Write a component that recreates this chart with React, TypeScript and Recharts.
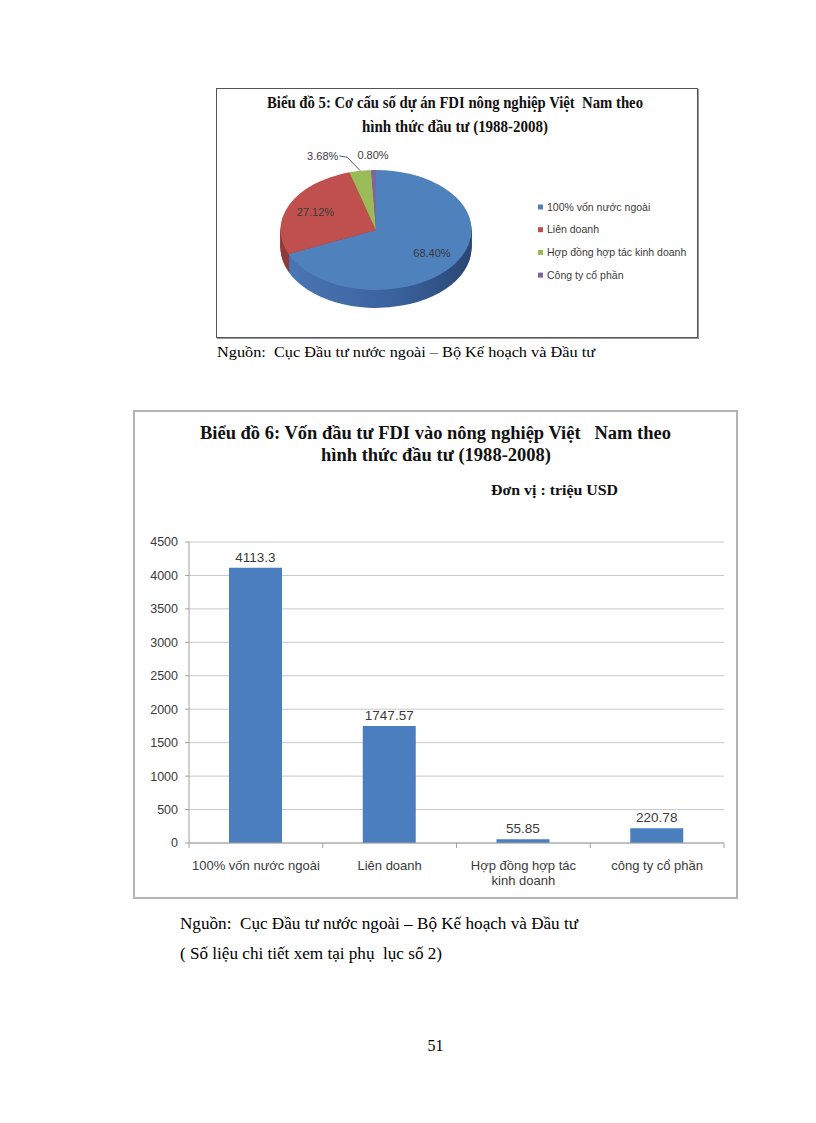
import React from "react";
import {
  PieChart,
  Pie,
  Cell,
  BarChart,
  Bar,
  XAxis,
  YAxis,
  CartesianGrid,
  LabelList,
  Text,
} from "recharts";

// Biểu đồ 5: share of projects by investment form (%)
const pieNames = [
  "100% vốn nước ngoài",
  "Liên doanh",
  "Hợp đồng hợp tác kinh doanh",
  "Công ty cổ phần",
];
const pieShares = [68.4, 27.12, 3.68, 0.8];
const pieColors = ["#4f81bd", "#c0504d", "#9bbb59", "#8064a2"];
const pieSideColors = ["url(#sideBlue)", "#8f3b39", "#789544", "#5f4a80"];

// Biểu đồ 6: capital by investment form (million USD)
const barCategories = [
  "100% vốn nước ngoài",
  "Liên doanh",
  "Hợp đồng hợp tác\nkinh doanh",
  "công ty cổ phần",
];
const barValues = [4113.3, 1747.57, 55.85, 220.78];
const yTicks = [0, 500, 1000, 1500, 2000, 2500, 3000, 3500, 4000, 4500];

const SANS = '"Liberation Sans", Arial, sans-serif';
const SERIF = '"Liberation Serif", "Times New Roman", serif';
const TEXT_GREY = "#3a3a3a";

// the pie is drawn round, then squashed vertically to look tilted
const K = 0.628;
const R = 95.5;
const PIE_CX = 130;
const PIE_CY = 140;
const DEPTH = 18 / K;
const LAYERS = 14;
const RAD = Math.PI / 180;

const pieData = pieNames.map((name, i) => ({ name, value: pieShares[i] }));
const barData = barCategories.map((name, i) => ({ name, value: barValues[i] }));

const PLOT_W = 535;
const BAND = PLOT_W / barCategories.length;

function unsquash(x: number, y: number) {
  return `translate(${x},${y}) scale(1,${1 / K})`;
}

function renderPieLabel(props: any) {
  const { cx, cy, midAngle, outerRadius, index, value } = props;
  const cos = Math.cos(-midAngle * RAD);
  const sin = Math.sin(-midAngle * RAD);
  const label = `${Number(value).toFixed(2)}%`;
  const style = { fontFamily: SANS, fontSize: 11, fill: TEXT_GREY };

  if (index < 2) {
    const r = outerRadius * 0.7;
    return (
      <text
        transform={unsquash(cx + r * cos, cy + r * sin)}
        textAnchor="middle"
        dominantBaseline="central"
        style={style}
      >
        {label}
      </text>
    );
  }

  const r = outerRadius * 1.25;
  const lx = cx + r * cos;
  const ly = cy + r * sin;
  if (index === 2) {
    const tx = lx - 18;
    const ex = cx + outerRadius * cos;
    const ey = cy + outerRadius * sin;
    return (
      <g>
        <path
          d={`M${tx + 1},${ly} L${tx + 9},${ly + 2} L${ex},${ey}`}
          stroke={TEXT_GREY}
          strokeWidth={1}
          fill="none"
          vectorEffect="non-scaling-stroke"
        />
        <text
          transform={unsquash(tx, ly)}
          textAnchor="end"
          dominantBaseline="central"
          style={style}
        >
          {label}
        </text>
      </g>
    );
  }
  return (
    <text
      transform={unsquash(lx, ly)}
      textAnchor="middle"
      dominantBaseline="central"
      style={style}
    >
      {label}
    </text>
  );
}

function CategoryTick(props: any) {
  const { x, y, payload, index } = props;
  const lines = String(payload.value).split("\n");
  return (
    <g>
      <line x1={x - BAND / 2} y1={y} x2={x - BAND / 2} y2={y + 5} stroke="#a0a0a0" />
      {index === barCategories.length - 1 && (
        <line x1={x + BAND / 2} y1={y} x2={x + BAND / 2} y2={y + 5} stroke="#a0a0a0" />
      )}
      {lines.map((line, i) => (
        <Text
          key={i}
          x={x}
          y={y + 22 + i * 15}
          textAnchor="middle"
          verticalAnchor="middle"
          style={{ fontFamily: SANS, fontSize: 13, fill: TEXT_GREY }}
        >
          {line}
        </Text>
      ))}
    </g>
  );
}

function TiltedPie() {
  const layers = [];
  for (let i = LAYERS; i >= 1; i--) {
    const off = (DEPTH * i) / LAYERS;
    layers.push(
      <Pie
        key={`side${i}`}
        data={pieData}
        dataKey="value"
        cx={PIE_CX}
        cy={PIE_CY + off}
        outerRadius={R}
        startAngle={90}
        endAngle={-270}
        stroke="none"
        label={false}
        labelLine={false}
        isAnimationActive={false}
      >
        {pieData.map((d, j) => (
          <Cell key={d.name} fill={pieSideColors[j]} />
        ))}
      </Pie>
    );
  }
  return (
    <div
      style={{
        position: "absolute",
        left: 375.5 - PIE_CX,
        top: 230 - PIE_CY * K,
        width: 260,
        height: 300,
        transform: `scaleY(${K})`,
        transformOrigin: "0 0",
      }}
    >
      <PieChart width={260} height={300} margin={{ top: 0, right: 0, bottom: 0, left: 0 }}>
        <defs>
          <linearGradient id="sideBlue" x1="0" y1="0" x2="1" y2="0">
            <stop offset="0%" stopColor="#4a76b3" />
            <stop offset="60%" stopColor="#3a619c" />
            <stop offset="100%" stopColor="#2a4775" />
          </linearGradient>
        </defs>
        {layers}
        <Pie
          data={pieData}
          dataKey="value"
          cx={PIE_CX}
          cy={PIE_CY}
          outerRadius={R}
          startAngle={90}
          endAngle={-270}
          stroke="none"
          label={renderPieLabel}
          labelLine={false}
          isAnimationActive={false}
        >
          {pieData.map((d, j) => (
            <Cell key={d.name} fill={pieColors[j]} />
          ))}
        </Pie>
      </PieChart>
    </div>
  );
}

export default function App() {
  return (
    <div style={{ position: "absolute", left: 0, top: 0, width: 816, height: 1123, background: "#fff" }}>
      {/* frame of chart 5 */}
      <div
        style={{
          position: "absolute",
          left: 216,
          top: 88,
          width: 482,
          height: 250,
          boxSizing: "border-box",
          border: "1px solid #555",
          boxShadow: "1px 1px 0 #999",
          background: "#fff",
        }}
      />
      <TiltedPie />

      {/* frame of chart 6 */}
      <div
        style={{
          position: "absolute",
          left: 133,
          top: 410,
          width: 605,
          height: 489,
          boxSizing: "border-box",
          border: "2px solid #b4b4b4",
          background: "#fff",
        }}
      />
      <div style={{ position: "absolute", left: 133, top: 500 }}>
        <BarChart
          width={605}
          height={398}
          data={barData}
          margin={{ top: 42, right: 14, bottom: 0, left: 0 }}
          barSize={53}
        >
          <CartesianGrid vertical={false} stroke="#c8c8c8" />
          <XAxis
            dataKey="name"
            interval={0}
            height={55}
            axisLine={{ stroke: "#a0a0a0" }}
            tickLine={false}
            tickSize={0}
            tickMargin={0}
            tick={(p: any) => <CategoryTick {...p} />}
          />
          <YAxis
            domain={[0, 4500]}
            ticks={yTicks}
            interval={0}
            width={56}
            axisLine={{ stroke: "#a0a0a0" }}
            tickLine={{ stroke: "#a0a0a0" }}
            tickSize={4}
            tickMargin={7}
            tick={{ fontSize: 12.5, fill: TEXT_GREY, fontFamily: SANS }}
          />
          <Bar dataKey="value" fill="#4a7ebf" isAnimationActive={false}>
            <LabelList
              dataKey="value"
              position="top"
              offset={6}
              style={{ fontSize: 13.5, fill: TEXT_GREY, fontFamily: SANS }}
            />
          </Bar>
        </BarChart>
      </div>

      {/* titles, legend and page text */}
      <svg
        width={816}
        height={1123}
        style={{ position: "absolute", left: 0, top: 0, pointerEvents: "none" }}
      >
        <g style={{ fontFamily: SERIF, fontWeight: "bold" }} fill="#111">
          <text x={455} y={107.5} textAnchor="middle" fontSize={17} textLength={376} lengthAdjust="spacingAndGlyphs" xmlSpace="preserve">
            Biểu đồ 5: Cơ cấu số dự án FDI nông nghiệp Việt  Nam theo
          </text>
          <text x={455} y={131.5} textAnchor="middle" fontSize={17} textLength={186} lengthAdjust="spacingAndGlyphs">
            hình thức đầu tư (1988-2008)
          </text>
          <text x={435.5} y={439} textAnchor="middle" fontSize={18} textLength={471} lengthAdjust="spacingAndGlyphs" xmlSpace="preserve">
            Biểu đồ 6: Vốn đầu tư FDI vào nông nghiệp Việt   Nam theo
          </text>
          <text x={436} y={461} textAnchor="middle" fontSize={18} textLength={230} lengthAdjust="spacingAndGlyphs">
            hình thức đầu tư (1988-2008)
          </text>
          <text x={491} y={495} fontSize={15} textLength={127} lengthAdjust="spacingAndGlyphs">
            Đơn vị : triệu USD
          </text>
        </g>

        {pieNames.map((name, i) => (
          <g key={name}>
            <rect x={538} y={204.5 + i * 22.7} width={5} height={5} fill={pieColors[i]} />
            <text
              x={547}
              y={210.5 + i * 22.7}
              fontSize={10.5}
              fill={TEXT_GREY}
              style={{ fontFamily: SANS }}
            >
              {name}
            </text>
          </g>
        ))}

        <g style={{ fontFamily: SERIF }} fill="#000">
          <text x={217} y={357} fontSize={15} textLength={378} lengthAdjust="spacingAndGlyphs" xmlSpace="preserve">
            Nguồn:  Cục Đầu tư nước ngoài – Bộ Kế hoạch và Đầu tư
          </text>
          <text x={180} y={928.5} fontSize={16} textLength={398} lengthAdjust="spacingAndGlyphs" xmlSpace="preserve">
            Nguồn:  Cục Đầu tư nước ngoài – Bộ Kế hoạch và Đầu tư
          </text>
          <text x={180} y={958.5} fontSize={16} textLength={262} lengthAdjust="spacingAndGlyphs" xmlSpace="preserve">
            ( Số liệu chi tiết xem tại phụ  lục số 2)
          </text>
          <text x={435.5} y={1050.5} fontSize={16} textAnchor="middle">
            51
          </text>
        </g>
      </svg>
    </div>
  );
}
